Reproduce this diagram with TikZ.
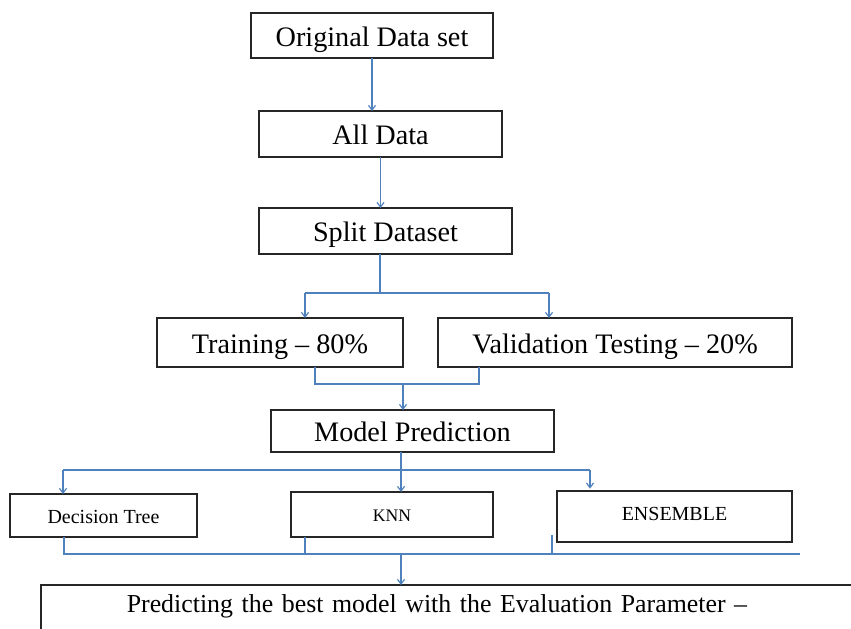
\documentclass[tikz,border=0pt]{standalone}
\usepackage{fontspec}
\setmainfont{Liberation Serif}
\usetikzlibrary{arrows.meta}
\definecolor{linkblue}{RGB}{79,129,189}
\begin{document}
\begin{tikzpicture}[x=0.851pt, y=-0.851pt,
  box/.style={draw=black!85, line width=1.2pt, inner sep=0pt, outer sep=0pt,
    text height=18pt, text depth=0pt, font=\fontsize{24}{28}\selectfont},
  modelbox/.style={box, text height=12.8pt, font=\fontsize{17}{20}\selectfont},
  link/.style={draw=linkblue, line width=1pt},
  arr/.style={link, -{Straight Barb[length=4pt,width=6pt]}}]
  \clip (0,0) rectangle (851,628);
  \fill[white] (0,0) rectangle (851,628);

  % data boxes
  \node[box, minimum width=206pt, minimum height=38.3pt] (orig) at (372,35.5) {Original Data set};
  \node[box, minimum width=206.8pt, minimum height=39.1pt] (all) at (380.5,134) {All Data};
  \node[box, minimum width=215.3pt, minimum height=39.1pt] (split) at (385.5,231) {Split Dataset};
  \node[box, minimum width=209.3pt, minimum height=41.7pt] (train) at (280,342.5) {Training -- 80\%};
  \node[box, minimum width=301.3pt, minimum height=41.7pt] (valid) at (615,342.5) {Validation Testing -- 20\%};
  \node[box, minimum width=240.8pt, minimum height=35.7pt] (mp) at (412.5,431) {Model Prediction};

  % models
  \node[modelbox, minimum width=159.1pt, minimum height=36.6pt] (dt) at (103.5,515.5) {Decision Tree};
  \node[modelbox, minimum width=171.9pt, minimum height=38.3pt, text height=11.2pt, font=\fontsize{15}{18}\selectfont] (knn) at (392,514.5) {KNN};
  \node[modelbox, minimum width=200pt, minimum height=43.4pt, text depth=6.8pt] (ens) at (674.5,516.5) {ENSEMBLE};

  % result
  \node[box, anchor=north west, font=\fontsize{22}{26}\selectfont, text height=15pt, text depth=60pt,
        text width=600pt, align=left, inner xsep=73pt, inner ysep=8pt] (best) at (41,585)
        {Predicting the best model with the Evaluation Parameter --};

  % top chain
  \draw[arr] (orig.south) -- (orig.south |- all.north);
  \draw[arr] (all.south) -- (all.south |- split.north);

  % split
  \coordinate (sj) at (380,293);
  \coordinate (sl) at (305,293);
  \coordinate (sr) at (549,293);
  \draw[link] (split.south -| sj) -- (sj);
  \draw[link] (sl) -- (sr);
  \draw[arr] (sl) -- (sl |- train.north);
  \draw[arr] (sr) -- (sr |- valid.north);

  % merge
  \coordinate (ml) at (315,384);
  \coordinate (mr) at (479,384);
  \coordinate (mj) at (403,384);
  \draw[link] (ml |- train.south) -- (ml) -- (mr) -- (mr |- valid.south);
  \draw[arr] (mj) -- (mj |- mp.north);

  % to models
  \coordinate (pj) at (401,470);
  \coordinate (pl) at (63,470);
  \coordinate (pr) at (590,470);
  \draw[link] (mp.south -| pj) -- (pj);
  \draw[link] (pl) -- (pr);
  \draw[arr] (pl) -- (pl |- dt.north);
  \draw[arr] (pj) -- (pj |- knn.north);
  \draw[arr] (pr) -- ([yshift=2pt]pr |- ens.north);

  % to result
  \coordinate (ql) at (64,554);
  \coordinate (qm) at (305,554);
  \coordinate (qn) at (552,554);
  \coordinate (qt) at (552,535);
  \coordinate (qr) at (800,554);
  \coordinate (qj) at (401,554);
  \draw[link] (ql |- dt.south) -- (ql) -- (qr);
  \draw[link] (qm |- knn.south) -- (qm);
  \draw[link] (qt) -- (qn);
  \draw[arr] (qj) -- (qj |- best.north);
\end{tikzpicture}
\end{document}
